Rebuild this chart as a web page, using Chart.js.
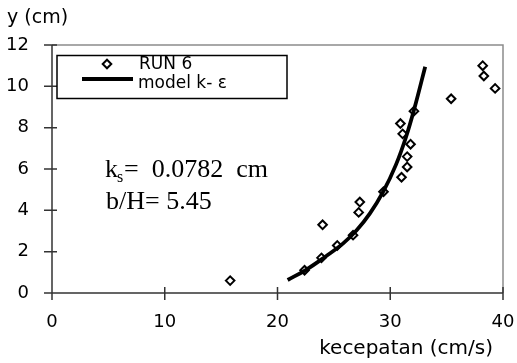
<!DOCTYPE html>
<html><head><meta charset="utf-8">
<script src="https://cdn.jsdelivr.net/npm/chart.js@4"></script>
<style>
html,body{margin:0;padding:0;background:#fff;overflow:hidden}
canvas{display:block}
</style></head><body>
<canvas id="c" width="517" height="363"></canvas>
<script>
// ---- data ----
const xTickValues = [0, 10, 20, 30, 40];
const yTickValues = [0, 2, 4, 6, 8, 10, 12];
const runX = [15.8, 22.4, 23.9, 24.0, 25.3, 26.7, 27.3, 27.2, 29.4, 30.9, 31.1, 31.8, 31.5, 31.5, 31.0, 32.1, 35.4, 38.2, 38.3, 39.3];
const runY = [0.6, 1.1, 1.7, 3.3, 2.3, 2.8, 4.4, 3.9, 4.9, 8.2, 7.7, 7.2, 6.6, 6.1, 5.6, 8.8, 9.4, 11.0, 10.5, 9.9];
const modelX = [20.9, 22.5, 24.3, 25.8, 27.0, 28.2, 29.4, 30.5, 31.4, 32.2, 33.1];
const modelY = [0.63, 1.11, 1.78, 2.39, 3.02, 3.85, 4.93, 6.2, 7.55, 9.05, 10.95];
const seriesNames = ['RUN 6', 'model k- ε'];
const xTitle = 'kecepatan (cm/s)';
const yTitle = 'y (cm)';
const ksMain = 'k', ksSub = 's', ksValue = '=  0.0782  cm';
const bhText = 'b/H= 5.45';

const SANS = '"DejaVu Sans", sans-serif';
const SERIF = '"Liberation Serif", "Times New Roman", serif';
const DIAMOND_R = 4.3;

const overlay = {
  id: 'overlay',
  beforeDatasetsDraw(chart) {
    const {ctx, chartArea: a, scales: {x, y}} = chart;
    ctx.save();
    ctx.lineWidth = 1.5;
    ctx.strokeStyle = '#8c8c8c';
    ctx.beginPath();
    ctx.moveTo(a.left, a.top); ctx.lineTo(a.right, a.top); ctx.lineTo(a.right, a.bottom);
    ctx.stroke();
    ctx.strokeStyle = '#333';
    ctx.beginPath();
    ctx.moveTo(a.left, a.top); ctx.lineTo(a.left, a.bottom); ctx.lineTo(a.right, a.bottom);
    x.ticks.forEach(t => { const p = x.getPixelForValue(t.value); ctx.moveTo(p, a.bottom - 6); ctx.lineTo(p, a.bottom + 7); });
    y.ticks.forEach(t => { const p = y.getPixelForValue(t.value); ctx.moveTo(a.left - 8, p); ctx.lineTo(a.left + 5, p); });
    ctx.stroke();
    // tick labels from the scales
    ctx.fillStyle = '#000';
    ctx.font = '18px ' + SANS;
    ctx.textBaseline = 'middle';
    ctx.textAlign = 'center';
    x.ticks.forEach(t => ctx.fillText(String(t.value), x.getPixelForValue(t.value), a.bottom + 29));
    ctx.textAlign = 'right';
    y.ticks.forEach(t => ctx.fillText(String(t.value), a.left - 23, y.getPixelForValue(t.value)));
    ctx.restore();
  },
  afterDraw(chart) {
    const {ctx} = chart;
    ctx.save();
    // axis titles
    ctx.fillStyle = '#000';
    ctx.textBaseline = 'middle';
    ctx.font = '19px ' + SANS;
    ctx.textAlign = 'left';
    ctx.fillText(yTitle, 7, 18);
    ctx.font = '20px ' + SANS;
    ctx.textAlign = 'right';
    ctx.fillText(xTitle, 493, 349);
    // legend box
    ctx.lineWidth = 1.5;
    ctx.strokeStyle = '#000';
    ctx.fillStyle = '#fff';
    ctx.fillRect(57, 55.5, 230, 43);
    ctx.strokeRect(57, 55.5, 230, 43);
    // legend diamond
    const dx = 107, dy = 64;
    ctx.lineWidth = 2;
    ctx.beginPath();
    ctx.moveTo(dx, dy - DIAMOND_R); ctx.lineTo(dx + DIAMOND_R, dy); ctx.lineTo(dx, dy + DIAMOND_R); ctx.lineTo(dx - DIAMOND_R, dy); ctx.closePath();
    ctx.stroke();
    // legend line
    ctx.lineWidth = 3.8;
    ctx.beginPath(); ctx.moveTo(82, 79); ctx.lineTo(133, 79); ctx.stroke();
    ctx.fillStyle = '#000';
    ctx.textAlign = 'left';
    ctx.font = '17px ' + SANS;
    ctx.fillText(chart.data.datasets[0].label, 139, 65);
    ctx.font = '17px ' + SANS;
    ctx.fillText(chart.data.datasets[1].label, 138, 84);
    // annotation
    ctx.textBaseline = 'alphabetic';
    ctx.font = '26px ' + SERIF;
    ctx.fillText(ksMain, 105, 177);
    const kw = ctx.measureText(ksMain).width;
    ctx.font = '16px ' + SERIF;
    ctx.fillText(ksSub, 105 + kw - 1, 182);
    ctx.font = '26px ' + SERIF;
    ctx.fillText(ksValue, 124, 177);
    ctx.fillText(bhText, 106, 209);
    ctx.restore();
  }
};

new Chart(document.getElementById('c'), {
  type: 'scatter',
  data: {
    datasets: [
      {
        label: seriesNames[0],
        data: runX.map((v, i) => ({x: v, y: runY[i]})),
        pointStyle: 'rectRot',
        pointRadius: DIAMOND_R,
        pointBorderWidth: 2,
        pointBorderColor: '#000',
        pointBackgroundColor: 'rgba(255,255,255,0)',
        showLine: false,
        order: 1
      },
      {
        label: seriesNames[1],
        data: modelX.map((v, i) => ({x: v, y: modelY[i]})),
        showLine: true,
        borderColor: '#000',
        borderWidth: 3.8,
        pointRadius: 0,
        tension: 0.4,
        fill: false,
        order: 2
      }
    ]
  },
  options: {
    responsive: false,
    animation: false,
    devicePixelRatio: 1,
    layout: {padding: {top: 45, right: 14, left: 0, bottom: 0}},
    plugins: {legend: {display: false}, tooltip: {enabled: false}, title: {display: false}},
    scales: {
      x: {
        type: 'linear', min: 0, max: 40,
        afterBuildTicks: s => { s.ticks = xTickValues.map(v => ({value: v})); },
        afterFit: s => { s.height = 70; },
        grid: {display: false, drawTicks: false},
        border: {display: false},
        ticks: {display: false}
      },
      y: {
        type: 'linear', min: 0, max: 12,
        afterBuildTicks: s => { s.ticks = yTickValues.map(v => ({value: v})); },
        afterFit: s => { s.width = 52; },
        grid: {display: false, drawTicks: false},
        border: {display: false},
        ticks: {display: false}
      }
    }
  },
  plugins: [overlay]
});
</script>
</body></html>
